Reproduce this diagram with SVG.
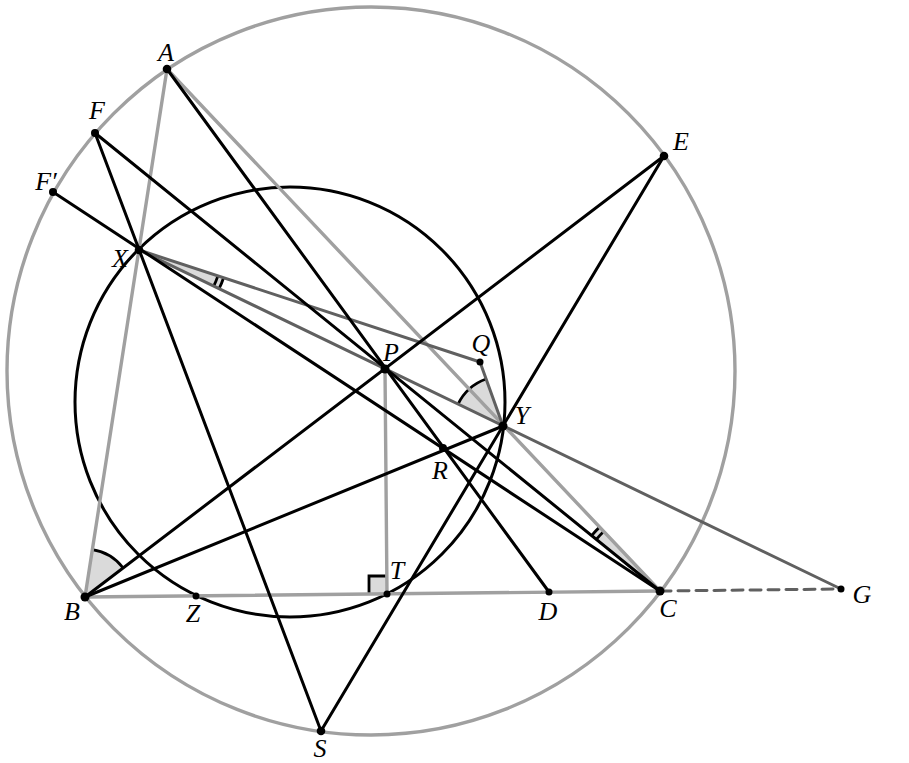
<svg xmlns="http://www.w3.org/2000/svg" width="909" height="763" viewBox="0 0 909 763">
<style>
.g{stroke:#a0a0a0;stroke-width:3.4;fill:none;stroke-linecap:round}
.k{stroke:#000;stroke-width:3;fill:none;stroke-linecap:round}
.d{stroke:#606060;stroke-width:3;fill:none;stroke-linecap:round}
.w{fill:#dadada;stroke:none}
.a{fill:none;stroke:#000;stroke-width:2.8}
.p{fill:#000}
text{font-family:"Liberation Serif","Times New Roman",serif;font-style:italic;font-size:26px;fill:#000;text-anchor:middle}
</style>
<rect width="909" height="763" fill="#fff"/>
<g id="circles">
<circle cx="371" cy="371" r="364" class="g"/>
<circle cx="290" cy="402" r="215" class="k"/>
</g>
<g id="angles">
<path class="w" d="M85,597 L92.3,549.6 A48,48 0 0,1 123.2,568 Z"/>
<path class="a" d="M92.3,549.6 A48,48 0 0,1 123.2,568"/>
<path class="w" d="M503,426 L458,404.2 A50,50 0 0,1 486.1,379 Z"/>
<path class="a" d="M458,404.2 A50,50 0 0,1 486.1,379"/>
<path class="w" d="M139,250 L223.6,277.8 A89,89 0 0,1 219.1,288.7 Z"/>
<path class="a" d="M223.6,277.8 A89,89 0 0,1 219.1,288.7 M217.9,275.9 A83,83 0 0,1 213.7,286.1"/>
<path class="w" d="M660,591 L591.6,535.6 A88,88 0 0,1 599.6,527.1 Z"/>
<path class="a" d="M591.6,535.6 A88,88 0 0,1 599.6,527.1 M596.3,539.4 A82,82 0 0,1 603.7,531.4"/>
<path class="w" d="M369,594 L369,576 L387,576 L387,594 Z"/>
<path class="a" d="M369,594 L369,576 L387,576" stroke-width="3"/>
</g>
<g id="connectors">
<line class="g" x1="167" y1="69" x2="85" y2="597"/>
<line class="g" x1="167" y1="69" x2="660" y2="591"/>
<line class="g" x1="85" y1="597" x2="660" y2="591"/>
<line class="g" x1="385" y1="369" x2="387" y2="594"/>
<line class="d" x1="139" y1="250" x2="841" y2="589"/>
<line class="d" x1="139" y1="250" x2="480" y2="362"/>
<line class="d" x1="480" y1="362" x2="503" y2="426"/>
<line class="d" x1="660" y1="591" x2="841" y2="589" stroke-dasharray="11,7"/>
<line class="k" x1="167" y1="69" x2="549" y2="592"/>
<line class="k" x1="95" y1="133" x2="660" y2="591"/>
<line class="k" x1="95" y1="133" x2="321" y2="731"/>
<line class="k" x1="53" y1="192" x2="660" y2="591"/>
<line class="k" x1="85" y1="597" x2="664" y2="156"/>
<line class="k" x1="664" y1="156" x2="321" y2="731"/>
<line class="k" x1="85" y1="597" x2="503" y2="426"/>
</g>
<g id="points">
<g id="A"><circle class="p" cx="167" cy="69" r="4.3"/><text x="166" y="61">A</text></g>
<g id="F"><circle class="p" cx="95" cy="133" r="4"/><text x="97" y="119">F</text></g>
<g id="Fp"><circle class="p" cx="53" cy="192" r="4"/><text x="46" y="190">F′</text></g>
<g id="E"><circle class="p" cx="664" cy="156" r="4.3"/><text x="681" y="150">E</text></g>
<g id="X"><circle class="p" cx="139" cy="250" r="4.3"/><text x="120" y="267">X</text></g>
<g id="P"><circle class="p" cx="385" cy="369" r="4.5"/><text x="391" y="361">P</text></g>
<g id="Q"><circle class="p" cx="480" cy="362" r="3.5"/><text x="481" y="352">Q</text></g>
<g id="Y"><circle class="p" cx="503" cy="426" r="4.5"/><text x="522" y="424">Y</text></g>
<g id="R"><circle class="p" cx="443" cy="448" r="4"/><text x="440" y="479">R</text></g>
<g id="B"><circle class="p" cx="85" cy="597" r="4.5"/><text x="72" y="620">B</text></g>
<g id="Z"><circle class="p" cx="196" cy="596" r="3.5"/><text x="193" y="622">Z</text></g>
<g id="T"><circle class="p" cx="387" cy="594" r="3.5"/><text x="397" y="579">T</text></g>
<g id="D"><circle class="p" cx="549" cy="592" r="3.5"/><text x="548" y="620">D</text></g>
<g id="C"><circle class="p" cx="660" cy="591" r="4.5"/><text x="668" y="617">C</text></g>
<g id="G"><circle class="p" cx="841" cy="589" r="3.5"/><text x="862" y="603">G</text></g>
<g id="S"><circle class="p" cx="321" cy="731" r="4.3"/><text x="320" y="757">S</text></g>
</g>
</svg>
